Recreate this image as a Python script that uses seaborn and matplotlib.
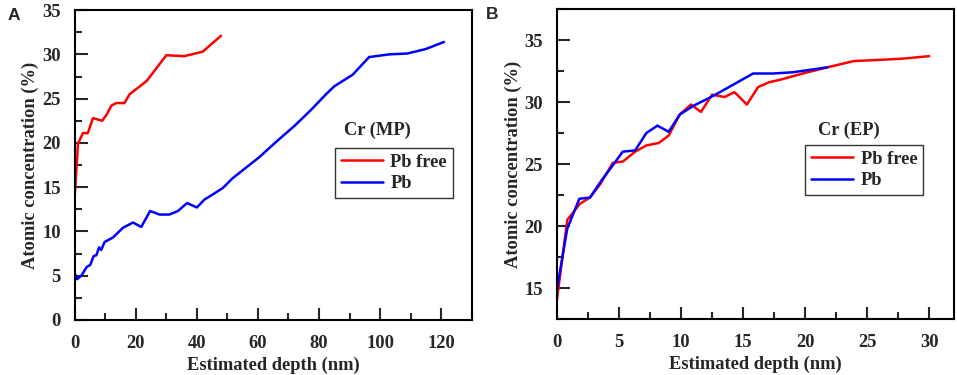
import pandas as pd
import numpy as np
import matplotlib
matplotlib.use('Agg')
import matplotlib.pyplot as plt
import seaborn as sns
from matplotlib.ticker import MultipleLocator

# panel A: Cr (MP)
mp_free_depth = [0, 1.1, 2.7, 4.3, 6.0, 9.0, 10.5, 12.0, 13.6, 16.3, 18.0, 23.6, 30.0, 35.9, 41.9, 47.9]
mp_free_conc = [13.9, 19.9, 21.1, 21.1, 22.8, 22.5, 23.2, 24.2, 24.5, 24.5, 25.5, 27.0, 29.9, 29.8, 30.3, 32.1]
mp_pb_depth = [0, 0.8, 2.2, 4.0, 5.1, 6.2, 7.1, 8.0, 8.7, 9.8, 12.5, 15.8, 19.1, 21.8, 24.7, 27.8,
               31.0, 33.8, 36.8, 40.0, 42.5, 45.8, 48.5, 51.7, 55.0, 60.5, 65.9, 71.9, 77.3, 82.3,
               85.0, 91.0, 96.4, 103.0, 108.9, 114.9, 120.9]
mp_pb_conc = [5.3, 4.6, 5.0, 6.0, 6.2, 7.2, 7.3, 8.2, 7.9, 8.8, 9.3, 10.4, 11.0, 10.5, 12.3, 11.9,
              11.9, 12.3, 13.2, 12.7, 13.6, 14.3, 14.9, 16.0, 16.9, 18.4, 20.1, 21.9, 23.7, 25.5,
              26.4, 27.7, 29.7, 30.0, 30.1, 30.6, 31.4]

# panel B: Cr (EP)
ep_free_depth = [0, 0.83, 1.85, 2.66, 3.5, 4.5, 5.3, 6.3, 7.2, 8.2, 9.0, 9.9, 10.8, 11.6, 12.5,
                 13.5, 14.3, 15.3, 16.2, 17.1, 18.0, 19.8, 21.8, 23.9, 26.0, 27.9, 30.0]
ep_free_conc = [14.1, 20.5, 21.8, 22.3, 23.4, 25.1, 25.2, 26.0, 26.5, 26.7, 27.3, 29.0, 29.8, 29.2,
                30.6, 30.4, 30.8, 29.8, 31.2, 31.6, 31.8, 32.3, 32.8, 33.3, 33.4, 33.5, 33.7]
ep_pb_depth = [0, 0.83, 1.8, 2.66, 3.6, 4.5, 5.3, 6.3, 7.2, 8.1, 9.0, 9.9, 11.0, 12.6, 14.2,
               15.8, 17.4, 19.0, 21.8]
ep_pb_conc = [14.9, 19.8, 22.2, 22.3, 23.7, 24.9, 26.0, 26.1, 27.5, 28.1, 27.6, 29.0, 29.7, 30.5,
              31.4, 32.3, 32.3, 32.4, 32.8]

series_names = ['Pb free', 'Pb']
colors = {'Pb free': '#ff0000', 'Pb': '#0000ff'}

def make_df(d1, c1, d2, c2):
    a = pd.DataFrame({'depth': d1, 'conc': c1, 'sample': series_names[0]})
    b = pd.DataFrame({'depth': d2, 'conc': c2, 'sample': series_names[1]})
    return pd.concat([a, b], ignore_index=True)

df_mp = make_df(mp_free_depth, mp_free_conc, mp_pb_depth, mp_pb_conc)
df_ep = make_df(ep_free_depth, ep_free_conc, ep_pb_depth, ep_pb_conc)

sns.set_style('ticks')
plt.rcParams['font.family'] = ['Liberation Serif', 'DejaVu Serif']
plt.rcParams['font.weight'] = 'bold'
plt.rcParams['axes.labelweight'] = 'bold'

fs = 13.3

fig = plt.figure(figsize=(9.57, 3.75), dpi=100)
ax1 = fig.add_axes([0.078, 0.147, 0.415, 0.826])
ax2 = fig.add_axes([0.582, 0.149, 0.415, 0.827])

panels = [
    (ax1, df_mp, 'Cr (MP)', (0, 130), (0, 35), 20, 10, 5, 2.5, (0.652, 0.397, 0.303, 0.155), (0.763, 0.613)),
    (ax2, df_ep, 'Cr (EP)', (0, 32), (12.5, 37.5), 5, 2.5, 5, 2.5, (0.627, 0.403, 0.292, 0.155), (0.735, 0.61)),
]

for ax, d, title, xl, yl, xmaj, xmin, ymaj, ymin, lbox, tpos in panels:
    sns.lineplot(data=d, x='depth', y='conc', hue='sample', palette=colors, sort=False,
                 estimator=None, linewidth=1.8, ax=ax)
    ax.set_xlim(*xl)
    ax.set_ylim(*yl)
    ax.xaxis.set_major_locator(MultipleLocator(xmaj))
    ax.xaxis.set_minor_locator(MultipleLocator(xmin))
    ax.yaxis.set_major_locator(MultipleLocator(ymaj))
    ax.yaxis.set_minor_locator(MultipleLocator(ymin))
    ax.tick_params(which='both', direction='in', top=False, right=False, width=1.5)
    ax.tick_params(axis='x', which='major', length=9, labelsize=fs, pad=11)
    ax.tick_params(axis='y', which='major', length=9, labelsize=fs, pad=10)
    ax.tick_params(which='minor', length=5)
    for s in ax.spines.values():
        s.set_linewidth(1.5)
        s.set_color('black')
    ax.set_xlabel('Estimated depth (nm)', fontsize=fs, fontweight='bold', labelpad=3)
    ax.set_ylabel('Atomic concentration (%)', fontsize=fs, fontweight='bold', labelpad=2)
    handles, labels = ax.get_legend_handles_labels()
    leg = ax.legend(handles, labels, loc='center', bbox_to_anchor=lbox, frameon=True,
                    fancybox=False, edgecolor='black', handlelength=2.3, handletextpad=0.4,
                    borderpad=0.3, labelspacing=0.25, borderaxespad=0,
                    prop={'size': fs, 'weight': 'bold'})
    leg.get_frame().set_linewidth(1.0)
    for h in leg.get_lines():
        h.set_linewidth(1.8)
    ax.text(tpos[0], tpos[1], title, transform=ax.transAxes, ha='center', va='center',
            fontsize=fs, fontweight='bold')

fig.text(0.008, 0.958, 'A', fontsize=12.5, fontweight='bold', family='Liberation Sans', va='center')
fig.text(0.508, 0.962, 'B', fontsize=12.5, fontweight='bold', family='Liberation Sans', va='center')

fig.savefig('out.png', dpi=100)
